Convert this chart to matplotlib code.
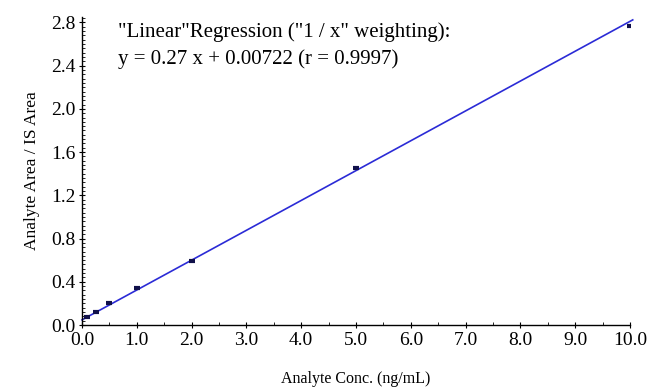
import numpy as np
import matplotlib
matplotlib.use("Agg")
import matplotlib.pyplot as plt
from matplotlib.ticker import MultipleLocator, FormatStrFormatter

# calibration standards
conc = [0.1, 0.25, 0.5, 1.0, 2.0, 5.0, 10.0]
ratio = [0.07, 0.12, 0.20, 0.34, 0.59, 1.45, 2.77]
fit_text = ['"Linear"Regression ("1 / x" weighting):',
            'y = 0.27 x + 0.00722 (r = 0.9997)']

plt.rcParams['font.family'] = ['Liberation Serif', 'DejaVu Serif']

# weighted fit (1/x weighting on squared residuals)
x = np.array(conc)
y = np.array(ratio)
slope, icpt = np.polyfit(x, y, 1, w=1 / np.sqrt(x))
xs = np.array([0.0, 10.05])

fig = plt.figure(figsize=(6.55, 3.9), dpi=100)
ax = fig.add_axes([82 / 655, 1 - 325 / 390, 548 / 655, 308 / 390])

ax.plot(xs, slope * xs + icpt, color='#2b2bd6', lw=1.2, zorder=2, clip_on=False)
ax.plot(x, y, ls='none', marker='_', ms=5, mew=3.0, color='#10104a', zorder=3)

ax.set_xlim(0, 10)
ax.set_ylim(0, 2.85)
ax.spines['top'].set_visible(False)
ax.spines['right'].set_visible(False)
ax.spines['left'].set_linewidth(1.0)
ax.spines['bottom'].set_linewidth(1.0)

ax.xaxis.set_major_locator(MultipleLocator(1.0))
ax.xaxis.set_minor_locator(MultipleLocator(0.5))
ax.yaxis.set_major_locator(MultipleLocator(0.4))
ax.yaxis.set_minor_locator(MultipleLocator(0.04))
ax.xaxis.set_major_formatter(FormatStrFormatter('%.1f'))
ax.yaxis.set_major_formatter(FormatStrFormatter('%.1f'))
ax.tick_params(axis='x', which='major', direction='inout', length=4, labelsize=14, pad=3)
ax.tick_params(axis='x', which='minor', direction='in', length=2.5)
ax.tick_params(axis='y', which='major', direction='inout', length=5, labelsize=14, pad=2)
ax.tick_params(axis='y', which='minor', direction='in', length=2.5)

ax.set_xlabel('Analyte Conc. (ng/mL)', fontsize=11.5, labelpad=16)
ax.set_ylabel('Analyte Area / IS Area', fontsize=12.5, labelpad=8)

ax.text(0.66, 2.71, fit_text[0], fontsize=15, va='center', ha='left')
ax.text(0.66, 2.46, fit_text[1], fontsize=15, va='center', ha='left')

fig.savefig('out.png', dpi=100)
